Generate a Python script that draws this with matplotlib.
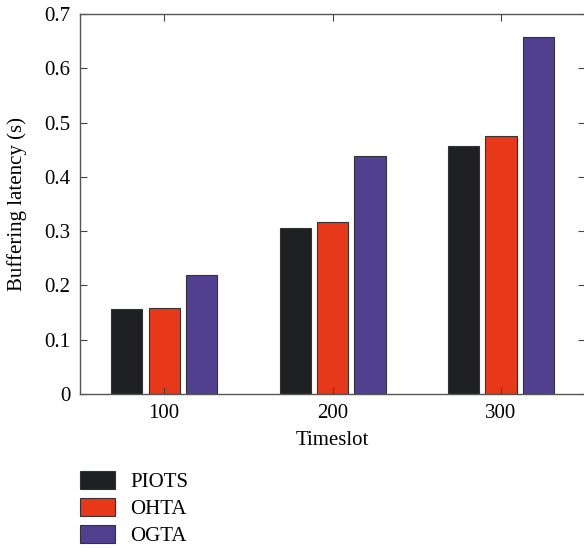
import numpy as np
import matplotlib
matplotlib.use("Agg")
import matplotlib.pyplot as plt

plt.rcParams['font.family'] = ['Liberation Serif', 'DejaVu Serif']

# data
timeslots = ["100", "200", "300"]
methods = ["PIOTS", "OHTA", "OGTA"]
piots = [0.156, 0.305, 0.456]
ohta = [0.158, 0.317, 0.476]
ogta = [0.220, 0.439, 0.658]
colors = ["#1f2022", "#e8381a", "#514090"]
yticks = [0, 0.1, 0.2, 0.3, 0.4, 0.5, 0.6, 0.7]
ytick_labels = ["0", "0.1", "0.2", "0.3", "0.4", "0.5", "0.6", "0.7"]

fig = plt.figure(figsize=(5.84, 5.48), dpi=100)
ax = fig.add_axes([0.137, 0.281, 0.865, 0.6935])

x = np.arange(1, len(timeslots) + 1)
w = 0.186
step = 0.222
series = [piots, ohta, ogta]
for i, vals in enumerate(series):
    ax.bar(x + (i - 1) * step, vals, w, color=colors[i], edgecolor="#333333",
           linewidth=0.8, label=methods[i])

ax.set_xlim(0.5, 3.5)
ax.set_ylim(0, 0.7)
ax.set_xticks(x)
ax.set_xticklabels(timeslots)
ax.set_yticks(yticks)
ax.set_yticklabels(ytick_labels)
ax.tick_params(direction="in", top=True, right=True, labelsize=15, length=5,
               color="#444444", width=0.8, pad=7)
for s in ax.spines.values():
    s.set_color("#555555")
    s.set_linewidth(1.0)
ax.set_xlabel("Timeslot", fontsize=15, labelpad=6)
ax.set_ylabel("Buffering latency (s)", fontsize=15, labelpad=12)

fig.legend(loc="upper left", bbox_to_anchor=(0.137, 0.14), frameon=False,
           fontsize=15, handlelength=1.7, handleheight=0.9, labelspacing=0.3,
           handletextpad=0.7, borderpad=0, borderaxespad=0)

fig.savefig("out.png", dpi=100)
